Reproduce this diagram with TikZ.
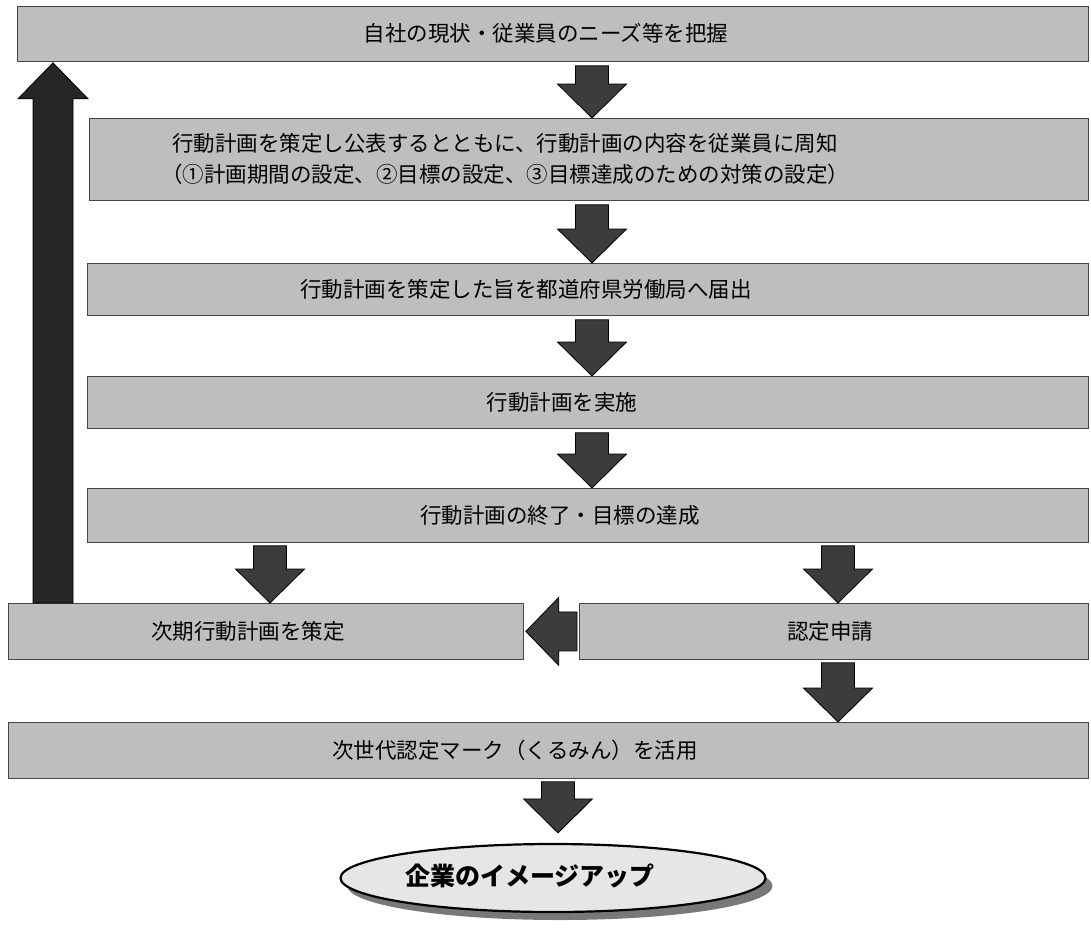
\documentclass[tikz,border=0pt]{standalone}
\usepackage{fontspec}
\newfontfamily\jp{Noto Sans CJK JP}
\usetikzlibrary{calc,shapes.geometric,shadows}
\definecolor{boxgray}{RGB}{190,190,190}
\definecolor{boxedge}{RGB}{70,70,70}
\definecolor{arrowgray}{RGB}{60,60,60}
\definecolor{ellfill}{RGB}{230,230,230}
\definecolor{shadowgray}{RGB}{120,120,120}
\newcommand\DownBlock[2]{%
  \draw[blockarrow] ($(#1)+(-16.5,0)$) -- ($(#1)+(16.5,0)$) -- ($(#2)+(16.5,-34)$) -- ($(#2)+(34.5,-34)$) -- (#2) -- ($(#2)+(-34.5,-34)$) -- ($(#2)+(-16.5,-34)$) -- cycle;}
\newcommand\LeftBlock[2]{%
  \draw[blockarrow] ($(#1)+(0,-19.5)$) -- ($(#1)+(0,19.5)$) -- ($(#2)+(33,19.5)$) -- ($(#2)+(33,34)$) -- (#2) -- ($(#2)+(33,-34)$) -- ($(#2)+(33,-19.5)$) -- cycle;}
\newcommand\UpBlock[2]{%
  \draw[blockarrow,fill=black!85] ($(#1)+(-20,0)$) -- ($(#2)+(-20,36)$) -- ($(#2)+(-35,36)$) -- (#2) -- ($(#2)+(35,36)$) -- ($(#2)+(20,36)$) -- ($(#1)+(20,0)$) -- cycle;}
\begin{document}
\begin{tikzpicture}[x=1pt,y=-1pt,
  stepbox/.style={draw=boxedge, line width=0.8pt, fill=boxgray, inner sep=0pt, anchor=north west},
  lbl/.style={font=\jp\fontsize{21.5}{31}\selectfont, inner sep=0pt, text=black, align=center},
  blockarrow/.style={draw=black, line width=0.8pt, fill=arrowgray, line join=miter},
  goalshape/.style={ellipse, draw=black, line width=2.2pt, fill=ellfill, minimum width=425, minimum height=68, inner sep=0pt,
     drop shadow={shadow xshift=7pt, shadow yshift=-8pt, fill=shadowgray, opacity=1}}]
\useasboundingbox (0,0) rectangle (1091,943);
\fill[white] (0,0) rectangle (1091,943);
% boxes
\node[stepbox, minimum width=1071, minimum height=55] (top) at (17,6) {};
\node[stepbox, minimum width=999, minimum height=82] (b2) at (89,118) {};
\node[stepbox, minimum width=1001, minimum height=52] (b3) at (87,263) {};
\node[stepbox, minimum width=1001, minimum height=52] (b4) at (87,376) {};
\node[stepbox, minimum width=1001, minimum height=54] (b5) at (87,488) {};
\node[stepbox, minimum width=515, minimum height=56] (b6a) at (8,603) {};
\node[stepbox, minimum width=509, minimum height=56] (b6b) at (579,603) {};
\node[stepbox, minimum width=1080, minimum height=56] (b7) at (8,722) {};
% texts
\node[lbl] (t1) at (546,33.5) {自社の現状・従業員のニーズ等を把握};
\node[lbl] (t2) at (505,159) {行動計画を策定し公表するとともに、行動計画の内容を従業員に周知\\（①計画期間の設定、②目標の設定、③目標達成のための対策の設定）};
\node[lbl] (t3) at (526,289) {行動計画を策定した旨を都道府県労働局へ届出};
\node[lbl] (t4) at (562,402) {行動計画を実施};
\node[lbl] (t5) at (560,515) {行動計画の終了・目標の達成};
\node[lbl] (t6a) at (248,631) {次期行動計画を策定};
\node[lbl] (t6b) at (830,631) {認定申請};
\node[lbl] (t7) at (515,750) {次世代認定マーク（くるみん）を活用};
% goal ellipse
\node[goalshape] (goal) at (553,878) {};
\node[font=\jp\bfseries\fontsize{25}{30}\selectfont, inner sep=0pt] (tg) at (530,876) {企業のイメージアップ};
% arrows
\coordinate (c1) at (592,0);
\coordinate (c2) at (270,0);
\coordinate (c3) at (838,0);
\coordinate (c4) at (558,0);
\coordinate (c5) at (53,0);
\DownBlock{$(top.south -| c1)+(0,4)$}{b2.north -| c1}
\DownBlock{$(b2.south -| c1)+(0,4)$}{b3.north -| c1}
\DownBlock{$(b3.south -| c1)+(0,4)$}{b4.north -| c1}
\DownBlock{$(b4.south -| c1)+(0,4)$}{b5.north -| c1}
\DownBlock{$(b5.south -| c2)+(0,3)$}{b6a.north -| c2}
\DownBlock{$(b5.south -| c3)+(0,3)$}{b6b.north -| c3}
\DownBlock{$(b6b.south -| c3)+(0,3)$}{b7.north -| c3}
\DownBlock{$(b7.south -| c4)+(0,3)$}{$(goal.north -| c4)+(0,-10)$}
\LeftBlock{$(b6b.west)+(-2,0)$}{$(b6a.east)+(2,0)$}
\UpBlock{b6a.north -| c5}{$(top.south -| c5)+(0,1)$}
\end{tikzpicture}
\end{document}
